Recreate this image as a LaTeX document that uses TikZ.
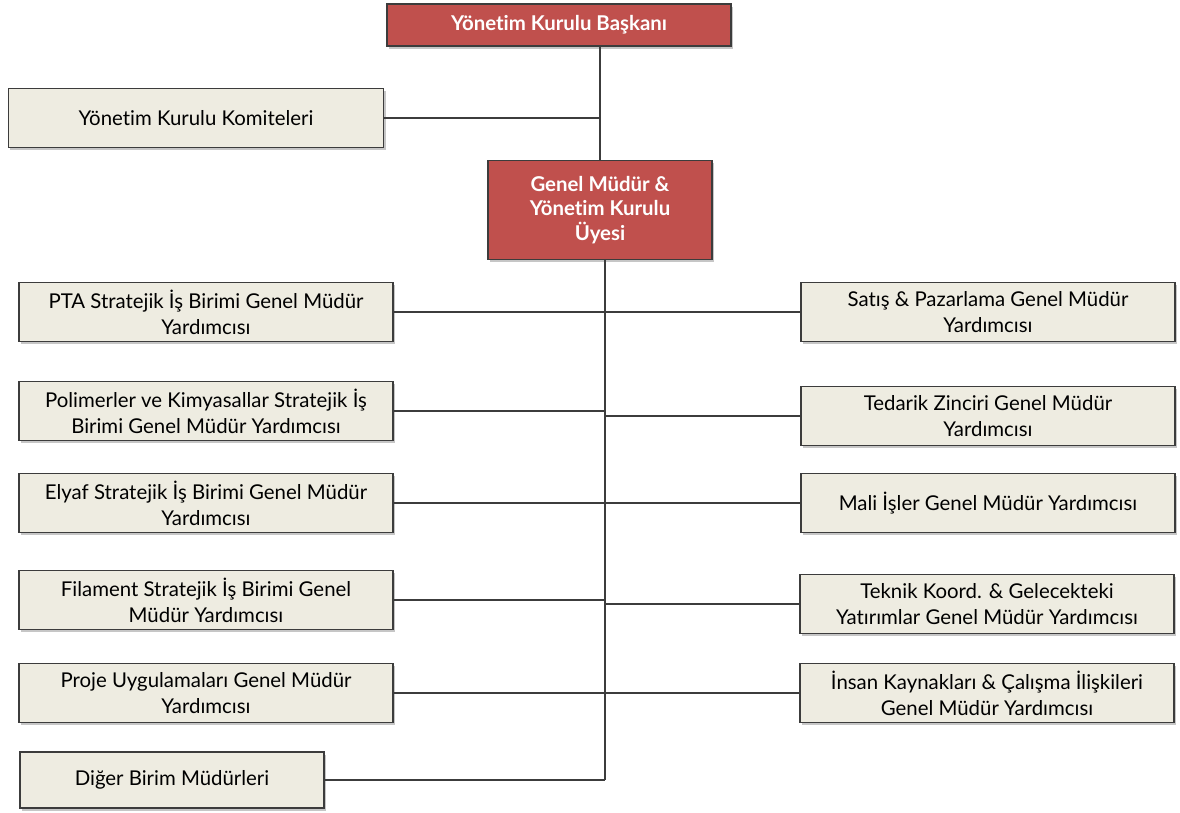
\documentclass[tikz,border=0pt]{standalone}
\usepackage{fontspec}
\setmainfont[Ligatures=NoCommon]{Lato}
\usetikzlibrary{shadows}
\definecolor{boxred}{RGB}{192,80,77}
\definecolor{boxbeige}{RGB}{238,236,225}
\definecolor{boxline}{RGB}{60,60,60}
\tikzstyle{unit}=[draw=boxline, line width=0.8pt, fill=boxbeige, align=center,
  drop shadow={shadow xshift=0.5mm, shadow yshift=-0.7mm, opacity=0.45},
  font=\fontsize{14.5}{18.5}\selectfont, inner sep=2pt,
  minimum width=9.35cm, minimum height=1.475cm]
\tikzstyle{head}=[unit, fill=boxred, text=white, font=\bfseries\fontsize{14.5}{17.5}\selectfont]
\tikzstyle{link}=[draw=boxline, line width=0.8pt]

\begin{document}
\begin{tikzpicture}[x=0.025cm, y=-0.025cm]
        \useasboundingbox (0,0) rectangle (1180,813);
        % top
        \node[head, minimum width=8.6cm, minimum height=1.05cm] (ykb) at (559,25) {Yönetim Kurulu Başkanı};
        \node[unit, minimum width=9.375cm] (kom) at (196,118) {Yönetim Kurulu Komiteleri};
        \node[head, minimum width=5.6cm, minimum height=2.475cm] (gm) at (600,210) {Genel Müdür \&\\ Yönetim Kurulu\\ Üyesi};
        % left column
        \node[unit] (pta) at (206,312) {PTA Stratejik İş Birimi Genel Müdür\\ Yardımcısı};
        \node[unit] (pol) at (206,411) {Polimerler ve Kimyasallar Stratejik İş\\ Birimi Genel Müdür Yardımcısı};
        \node[unit] (ely) at (206,503) {Elyaf Stratejik İş Birimi Genel Müdür\\ Yardımcısı};
        \node[unit] (fil) at (206,600) {Filament Stratejik İş Birimi Genel\\ Müdür Yardımcısı};
        \node[unit] (prj) at (206,693) {Proje Uygulamaları Genel Müdür\\ Yardımcısı};
        \node[unit, minimum width=7.6cm, minimum height=1.4cm] (dig) at (172,780) {Diğer Birim Müdürleri};
        % right column
        \node[unit] (sat) at (988,312) {Satış \& Pazarlama Genel Müdür\\ Yardımcısı};
        \node[unit] (ted) at (988,416) {Tedarik Zinciri Genel Müdür\\ Yardımcısı};
        \node[unit] (mal) at (988,503) {Mali İşler Genel Müdür Yardımcısı};
        \node[unit] (tek) at (987,604) {Teknik Koord. \& Gelecekteki\\ Yatırımlar Genel Müdür Yardımcısı};
        \node[unit] (ins) at (987,693) {İnsan Kaynakları \& Çalışma İlişkileri\\ Genel Müdür Yardımcısı};
        % connectors
        \coordinate (trunk) at (605,780);
        \draw[link] (gm.north |- ykb.south) -- (gm.north);
        \draw[link] (kom.east) -- (kom.east -| gm.north);
        \draw[link] (gm.south -| trunk) -- (trunk);
        \foreach \n in {pta,pol,ely,fil,prj,dig,sat,ted,mal,tek,ins}
            \draw[link] (\n) -- (\n -| trunk);
\end{tikzpicture}
\end{document}
